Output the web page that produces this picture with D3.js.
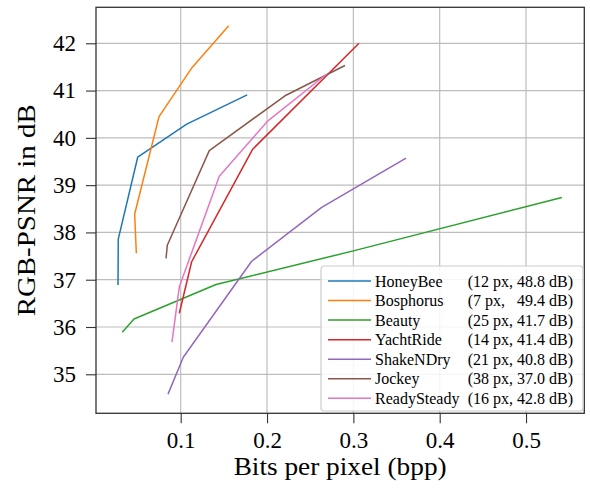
<!DOCTYPE html>
<html>
<head>
<meta charset="utf-8">
<script src="https://cdn.jsdelivr.net/npm/d3@7"></script>
<style>
  body { margin: 0; background: #fff; }
  svg text { font-family: "Liberation Serif", "Times New Roman", serif; fill: #000; }
</style>
</head>
<body>
<div id="chart"></div>
<script>

// sequences, in legend order
var seriesNames = ["HoneyBee", "Bosphorus", "Beauty", "YachtRide", "ShakeNDry", "Jockey", "ReadySteady"];
var seriesInfo = ["(12 px, 48.8 dB)", "(7 px,\u00a0\u00a0 49.4 dB)", "(25 px, 41.7 dB)", "(14 px, 41.4 dB)",
                  "(21 px, 40.8 dB)", "(38 px, 37.0 dB)", "(16 px, 42.8 dB)"];
var seriesColors = ["#1f77b4", "#ff7f0e", "#2ca02c", "#d62728", "#9467bd", "#8c564b", "#e377c2"];

// rate / quality points per sequence
var bppHoneyBee = [0.0274, 0.0277, 0.0502, 0.107, 0.177];
var psnrHoneyBee = [36.89, 37.86, 39.59, 40.29, 40.91];
var bppBosphorus = [0.0486, 0.0467, 0.0749, 0.1125, 0.1556];
var psnrBosphorus = [37.56, 38.39, 40.45, 41.47, 42.37];
var bppBeauty = [0.0323, 0.0459, 0.1409, 0.300, 0.5415];
var psnrBeauty = [35.89, 36.17, 36.90, 37.61, 38.74];
var bppYachtRide = [0.0984, 0.1127, 0.1834, 0.3065];
var psnrYachtRide = [36.29, 37.38, 39.76, 42.0];
var bppShakeNDry = [0.0853, 0.103, 0.1822, 0.2633, 0.361];
var psnrShakeNDry = [34.58, 35.36, 37.39, 38.53, 39.57];
var bppJockey = [0.083, 0.0845, 0.1331, 0.2208, 0.2903];
var psnrJockey = [37.45, 37.73, 39.73, 40.89, 41.53];
var bppReadySteady = [0.0899, 0.0984, 0.1447, 0.2011, 0.2691];
var psnrReadySteady = [35.68, 36.85, 39.19, 40.36, 41.35];

var xTicks = [0.1, 0.2, 0.3, 0.4, 0.5];
var yTicks = [35, 36, 37, 38, 39, 40, 41, 42];


RDChart = function(_parentElement){
    this.parentElement = _parentElement;
    this.displayData = [];

    this.initVis();
}

RDChart.prototype.initVis = function(){
    var vis = this;

    vis.margin = {top: 7.3, right: 5.7, bottom: 81.7, left: 96};
    vis.width = 590 - vis.margin.left - vis.margin.right;
    vis.height = 495 - vis.margin.top - vis.margin.bottom;

    vis.svg = d3.select("#" + vis.parentElement).append("svg")
        .attr("width", 590)
        .attr("height", 495)
        .append("g")
        .attr("transform", "translate(" + vis.margin.left + "," + vis.margin.top + ")");

    vis.x = d3.scaleLinear()
        .domain([0.0019, 0.5675])
        .range([0, vis.width]);

    vis.y = d3.scaleLinear()
        .domain([34.175, 42.761])
        .range([vis.height, 0]);

    vis.xAxis = d3.axisBottom(vis.x)
        .tickValues(xTicks)
        .tickFormat(d3.format(".1f"))
        .tickSize(10)
        .tickPadding(8);

    vis.yAxis = d3.axisLeft(vis.y)
        .tickValues(yTicks)
        .tickSize(10)
        .tickPadding(10);

    // grid
    vis.svg.append("g").attr("class", "grid")
        .selectAll(".gx").data(xTicks).enter().append("line")
        .attr("x1", d => vis.x(d)).attr("x2", d => vis.x(d))
        .attr("y1", 0).attr("y2", vis.height)
        .attr("stroke", "#bdbdbd").attr("stroke-width", 1.2);
    vis.svg.select(".grid")
        .selectAll(".gy").data(yTicks).enter().append("line")
        .attr("x1", 0).attr("x2", vis.width)
        .attr("y1", d => vis.y(d)).attr("y2", d => vis.y(d))
        .attr("stroke", "#bdbdbd").attr("stroke-width", 1.2);

    vis.svg.append("g")
        .attr("class", "x-axis axis")
        .attr("transform", "translate(0," + vis.height + ")");

    vis.svg.append("g")
        .attr("class", "y-axis axis");

    vis.line = d3.line()
        .x(d => vis.x(d.bpp))
        .y(d => vis.y(d.psnr));

    vis.wrangleData();
}

RDChart.prototype.wrangleData = function(){
    var vis = this;

    var bpp = [bppHoneyBee, bppBosphorus, bppBeauty, bppYachtRide, bppShakeNDry, bppJockey, bppReadySteady];
    var psnr = [psnrHoneyBee, psnrBosphorus, psnrBeauty, psnrYachtRide, psnrShakeNDry, psnrJockey, psnrReadySteady];

    vis.displayData = seriesNames.map(function(name, i){
        return {
            name: name,
            info: seriesInfo[i],
            color: seriesColors[i],
            values: bpp[i].map((b, j) => ({bpp: b, psnr: psnr[i][j]}))
        };
    });

    vis.updateVis();
}

RDChart.prototype.updateVis = function(){
    var vis = this;

    vis.svg.selectAll(".rd-line")
        .data(vis.displayData)
        .enter().append("path")
        .attr("class", "rd-line")
        .attr("d", d => vis.line(d.values))
        .attr("fill", "none")
        .attr("stroke", d => d.color)
        .attr("stroke-width", 1.5)
        .attr("stroke-linejoin", "round");

    vis.svg.select(".x-axis").call(vis.xAxis);
    vis.svg.select(".y-axis").call(vis.yAxis);

    vis.svg.selectAll(".axis .domain").remove();
    vis.svg.selectAll(".axis .tick line").attr("stroke", "#333").attr("stroke-width", 1.1);
    vis.svg.selectAll(".axis text")
        .style("font-family", "'Liberation Serif', serif")
        .style("font-size", "23px");

    // frame
    vis.svg.append("rect")
        .attr("width", vis.width).attr("height", vis.height)
        .attr("fill", "none").attr("stroke", "#333").attr("stroke-width", 1.3);

    // axis titles (stretched a little, the source font is wider)
    vis.svg.append("text")
        .attr("x", vis.width / 2)
        .attr("y", vis.height + 62)
        .attr("text-anchor", "middle")
        .attr("textLength", 213)
        .attr("lengthAdjust", "spacingAndGlyphs")
        .style("font-size", "25px")
        .text("Bits per pixel (bpp)");

    vis.svg.append("text")
        .attr("transform", "translate(" + (35 - vis.margin.left) + "," + (vis.height / 2) + ") rotate(-90)")
        .attr("text-anchor", "middle")
        .attr("textLength", 212)
        .attr("lengthAdjust", "spacingAndGlyphs")
        .style("font-size", "25px")
        .text("RGB-PSNR in dB");

    // legend
    var legend = vis.svg.append("g")
        .attr("transform", "translate(" + (321 - vis.margin.left) + "," + (266 - vis.margin.top) + ")");

    legend.append("rect")
        .attr("width", 262).attr("height", 145).attr("rx", 3)
        .attr("fill", "#fff").attr("fill-opacity", 0.85)
        .attr("stroke", "#cccccc").attr("stroke-width", 1.2);

    var rows = legend.selectAll(".entry")
        .data(vis.displayData)
        .enter().append("g")
        .attr("class", "entry")
        .attr("transform", (d, i) => "translate(0," + (15 + i * 19.55) + ")");

    rows.append("line")
        .attr("x1", 7).attr("x2", 50)
        .attr("stroke", d => d.color).attr("stroke-width", 1.5);

    rows.append("text")
        .attr("x", 54).attr("y", 5.5)
        .style("font-size", "16px")
        .text(d => d.name);

    rows.append("text")
        .attr("x", 252).attr("y", 5.5)
        .attr("text-anchor", "end")
        .style("font-size", "16px")
        .text(d => d.info);
}

new RDChart("chart");
</script>
</body>
</html>
